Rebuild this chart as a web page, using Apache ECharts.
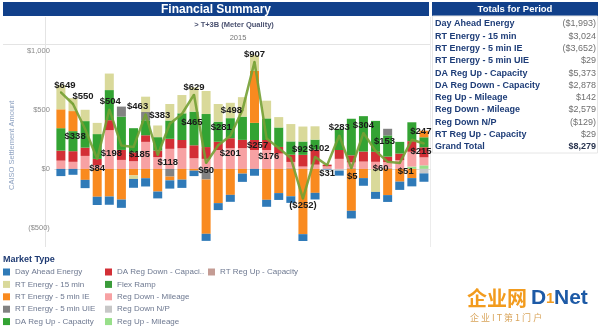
<!DOCTYPE html>
<html>
<head>
<meta charset="utf-8">
<script src="https://cdn.jsdelivr.net/npm/echarts@6/dist/echarts.min.js"></script>
<style>
  html, body { margin: 0; padding: 0; background: #fff; }
  #chart { width: 600px; height: 327px; }
</style>
</head>
<body>
<div id="chart"></div>
<script>
// Trading days of the period
const days = ['1','2','3','4','5','6','7','8','9','10','11','12','13','14','15','16',
              '17','18','19','20','21','22','23','24','25','26','27','28','29','30','31'];

// Daily settlement amounts per market type ($)
const dayAhead       = [-61,-50,-70,-70,-70,-70,-75,-70,-58,-70,-70,-46,-60,-59,-59,-70,-58,-59,-58,-56,-58,-56,-5,-42,-65,-65,-59,-58,-70,-70,-71];
const rt15           = [205,110,96,95,140,0,-30,130,99,140,155,205,195,150,130,165,135,150,88,147,127,113,0,0,0,0,-195,0,0,0,0];
const rt5IE          = [160,170,-93,-236,-234,-260,-55,-79,-192,-32,-91,-15,-460,-290,-220,-40,440,-262,-205,-232,-553,-203,0,0,-355,-78,0,-222,-108,-78,56];
const rt5UIE         = [0,0,0,0,0,85,0,70,0,-65,0,0,-90,0,0,0,0,0,0,0,0,0,0,0,0,0,0,56,0,0,0];
const daRegUpCap     = [190,170,225,210,255,282,205,127,113,155,226,285,280,170,170,197,145,183,165,113,113,85,0,180,310,300,262,180,99,160,85];
const daRegDownCap   = [85,90,70,55,85,85,75,56,56,85,70,110,100,70,85,70,85,85,56,61,99,127,14,75,60,85,85,46,56,90,85];
const flexRamp       = [0,0,0,0,0,0,0,0,0,0,0,0,0,0,0,0,0,0,0,0,0,0,0,0,0,0,0,0,0,0,0];
const regDownMileage = [70,60,110,30,328,76,65,229,100,170,175,90,85,160,175,176,160,160,130,50,20,36,22,85,45,62,60,48,74,125,68];
const regDownNP      = [0,0,0,0,0,0,0,0,0,0,0,0,0,0,0,0,0,0,0,0,0,0,0,-15,0,0,0,0,0,0,-38];
const regUpMileage   = [0,0,0,0,0,0,0,0,0,0,0,0,0,0,0,0,0,0,0,0,0,0,0,0,0,0,0,0,0,20,30];
const rtRegUpCap     = [0,0,0,0,0,0,0,0,0,0,0,0,0,0,0,0,0,0,0,9,0,0,0,0,10,0,0,10,0,0,0];

// Daily net total ($)
const dailyTotal = [649,550,338,84,504,198,185,463,118,383,465,629,50,201,281,498,907,257,176,92,-252,102,31,283,5,304,153,60,51,247,215];

// Y axis ticks
const yTicks = [-500, 0, 500, 1000];

// Totals for period table
const totalNames  = ['Day Ahead Energy','RT Energy - 15 min','RT Energy - 5 min IE','RT Energy - 5 min UIE',
                     'DA Reg Up - Capacity','DA Reg Down - Capacity','Reg Up - Mileage','Reg Down - Mileage',
                     'Reg Down N/P','RT Reg Up - Capacity','Grand Total'];
const totalValues = ['($1,993)','$3,024','($3,652)','$29','$5,373','$2,878','$142','$2,579','($129)','$29','$8,279'];

// Legend columns
const legendCol1 = ['Day Ahead Energy','RT Energy - 15 min','RT Energy - 5 min IE','RT Energy - 5 min UIE','DA Reg Up - Capacity'];
const legendCol2 = ['DA Reg Down - Capacity','Flex Ramp','Reg Down - Mileage','Reg Down N/P','Reg Up - Mileage'];
const legendCol3 = ['RT Reg Up - Capacity'];

// Placement of each total label around its point, [dx, dy] in px
const labelPlacement = [
  [4,-7],[10,-8],[-10,7],[0,9],[1,-8],[-10,8],[6,7],[-8,-8],[10,7],[-10,-8],
  [10,8],[0,-7],[0,7],[12,8],[-9,-8],[-11,0],[0,-7],[-9,7],[-10,8],[9,-9],
  [0,7],[4,-8],[0,8],[0,-8],[1,8],[0,-8],[9,-9],[-7,7],[6,8],[9,-8],[-3,8]
];

const FONT = '"Liberation Sans", Arial, sans-serif';
const NAVY = '#11408a';

const money = v => v < 0 ? '($' + Math.abs(v).toLocaleString('en-US') + ')' : '$' + v.toLocaleString('en-US');

// stacking order: first entry sits next to the zero line
const stackSeries = [
  ['RT Reg Up - Capacity',   rtRegUpCap,     '#c49c94'],
  ['Reg Up - Mileage',       regUpMileage,   '#98df8a'],
  ['Reg Down N/P',           regDownNP,      '#c7c7c7'],
  ['Reg Down - Mileage',     regDownMileage, '#f7a1a3'],
  ['Flex Ramp',              flexRamp,       '#3a9b3a'],
  ['DA Reg Down - Capacity', daRegDownCap,   '#d32f36'],
  ['DA Reg Up - Capacity',   daRegUpCap,     '#33a333'],
  ['RT Energy - 5 min UIE',  rt5UIE,         '#828282'],
  ['RT Energy - 5 min IE',   rt5IE,          '#f98a1f'],
  ['RT Energy - 15 min',     rt15,           '#d9d99a'],
  ['Day Ahead Energy',       dayAhead,       '#2f7ab8']
];

const series = stackSeries.map(([name, data, color]) => ({
  name, type: 'bar', stack: 'amount', barWidth: 9, data,
  itemStyle: { color }, emphasis: { disabled: true }
}));

series.push({
  name: 'Total', type: 'line', z: 10,
  data: dailyTotal.map((v, i) => ({
    value: v,
    label: { position: 'inside', offset: labelPlacement[i] }
  })),
  symbol: 'circle', symbolSize: 2,
  itemStyle: { color: '#74a034' },
  lineStyle: { color: '#74a034', width: 2.5, opacity: 0.9 },
  label: {
    show: true, formatter: p => money(p.value),
    color: '#1a1a1a', fontSize: 9.5, fontWeight: 'bold', fontFamily: FONT
  },
  emphasis: { disabled: true }
});

const legendBase = {
  orient: 'vertical', icon: 'rect', itemWidth: 7, itemHeight: 7, itemGap: 2.4,
  padding: 0, top: 267, selectedMode: false,
  textStyle: { fontSize: 8, color: '#6d7890', lineHeight: 10, fontFamily: FONT },
  formatter: n => n === 'DA Reg Down - Capacity' ? 'DA Reg Down - Capaci..' : n
};

const graphic = [
  { type: 'rect', shape: { x: 3, y: 2, width: 426, height: 14 }, style: { fill: NAVY } },
  { type: 'text', x: 216, y: 9.5, style: { text: 'Financial Summary', fill: '#fff', font: 'bold 12px ' + FONT, align: 'center', verticalAlign: 'middle' } },
  { type: 'rect', shape: { x: 432, y: 2, width: 166, height: 14 }, style: { fill: NAVY } },
  { type: 'text', x: 515, y: 9.5, style: { text: 'Totals for Period', fill: '#fff', font: 'bold 9.5px ' + FONT, align: 'center', verticalAlign: 'middle' } },
  { type: 'text', x: 234, y: 25, style: { text: '> T+3B (Meter Quality)', fill: '#4a5170', font: 'bold 7.5px ' + FONT, align: 'center', verticalAlign: 'middle' } },
  { type: 'text', x: 238, y: 37.5, style: { text: '2015', fill: '#777', font: '7.5px ' + FONT, align: 'center', verticalAlign: 'middle' } },
  { type: 'line', shape: { x1: 3, y1: 44.5, x2: 430, y2: 44.5 }, style: { stroke: '#e4e4e4', lineWidth: 1 } },
  { type: 'line', shape: { x1: 45.5, y1: 17, x2: 45.5, y2: 247 }, style: { stroke: '#e4e4e4', lineWidth: 1 } },
  { type: 'line', shape: { x1: 430.5, y1: 17, x2: 430.5, y2: 247 }, style: { stroke: '#ececec', lineWidth: 1 } },
  { type: 'rect', shape: { x: 432.5, y: 16, width: 165, height: 137 }, style: { fill: 'none', stroke: '#e6e6e6', lineWidth: 1 } },
  { type: 'text', x: 3, y: 259.5, style: { text: 'Market Type', fill: '#1f3b73', font: 'bold 9px ' + FONT, align: 'left', verticalAlign: 'middle' } },
  // site mark
  { type: 'text', x: 467, y: 298, style: { text: '企业网', fill: '#f29b1d', font: 'bold 20px "Noto Sans CJK SC", sans-serif', align: 'left', verticalAlign: 'middle' } },
  { type: 'text', x: 531, y: 298, style: { text: 'D', fill: '#1d5aa6', font: 'bold 21px ' + FONT, align: 'left', verticalAlign: 'middle' } },
  { type: 'text', x: 546, y: 299, style: { text: '1', fill: '#f29b1d', font: 'bold 15px ' + FONT, align: 'left', verticalAlign: 'middle' } },
  { type: 'text', x: 554, y: 298, style: { text: 'Net', fill: '#1d5aa6', font: 'bold 21px ' + FONT, align: 'left', verticalAlign: 'middle' } },
  { type: 'text', x: 470, y: 318, style: { text: '企 业 I T 第 1 门 户', fill: '#d9a55c', font: '9px "Noto Sans CJK SC", sans-serif', align: 'left', verticalAlign: 'middle' } }
];

totalNames.forEach((name, i) => {
  const y = 24 + i * 12.28;
  const last = i === totalNames.length - 1;
  graphic.push({ type: 'text', x: 435, y, style: { text: name, fill: '#1e3d78', font: 'bold 9px ' + FONT, align: 'left', verticalAlign: 'middle' } });
  graphic.push({ type: 'text', x: 596, y, style: { text: totalValues[i], fill: last ? '#2a3550' : '#6f6f6f', font: (last ? 'bold ' : '') + '9px ' + FONT, align: 'right', verticalAlign: 'middle' } });
});

const chart = echarts.init(document.getElementById('chart'), null, { renderer: 'canvas' });
chart.setOption({
  animation: false,
  backgroundColor: '#fff',
  grid: { left: 45, top: 45, width: 385, height: 200.6, containLabel: false },
  xAxis: {
    type: 'category', data: days,
    axisLine: { show: true, onZero: true, lineStyle: { color: '#dcdcdc' } },
    axisTick: { show: false }, axisLabel: { show: false }
  },
  yAxis: {
    type: 'value', min: -650, max: 1050,
    name: 'CAISO Settlement Amount', nameLocation: 'middle', nameGap: 32,
    nameTextStyle: { color: '#8fa3c2', fontSize: 7.5, fontFamily: FONT },
    axisLine: { show: false }, axisTick: { show: false }, splitLine: { show: false },
    axisLabel: { customValues: yTicks, formatter: v => money(v), color: '#8a8a8a', fontSize: 7.5, margin: 5, fontFamily: FONT }
  },
  legend: [
    Object.assign({}, legendBase, { left: 3, data: legendCol1 }),
    Object.assign({}, legendBase, { left: 105, data: legendCol2 }),
    Object.assign({}, legendBase, { left: 208, data: legendCol3 })
  ],
  graphic,
  series
});
</script>
</body>
</html>
